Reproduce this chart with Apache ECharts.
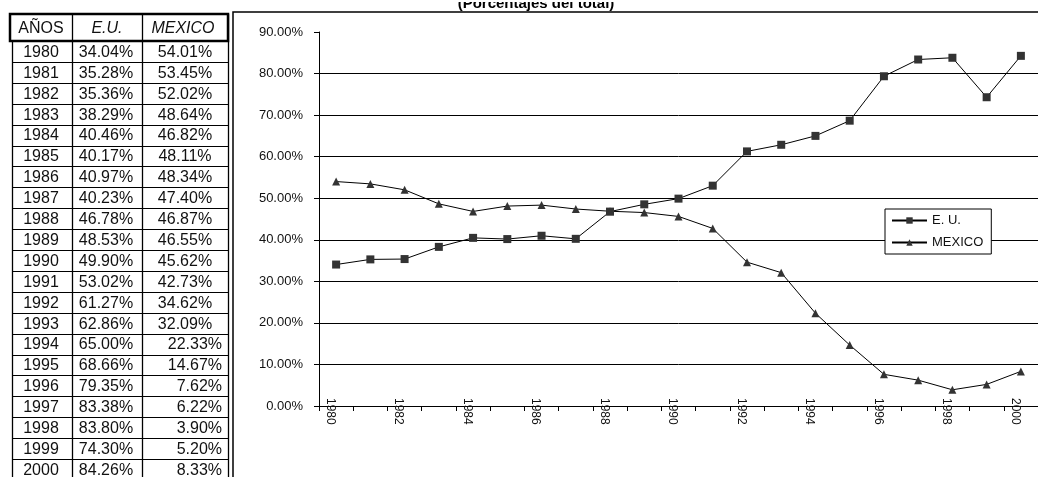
<!DOCTYPE html>
<html><head><meta charset="utf-8">
<script src="https://cdn.jsdelivr.net/npm/echarts@6/dist/echarts.min.js"></script>
<style>html,body{margin:0;padding:0;background:#fff;}#c{width:1038px;height:477px;}</style>
</head><body><div id="c"></div>
<script>
const years = ['1980','1981','1982','1983','1984','1985','1986','1987','1988','1989','1990','1991','1992','1993','1994','1995','1996','1997','1998','1999','2000'];
const euValues = [34.04,35.28,35.36,38.29,40.46,40.17,40.97,40.23,46.78,48.53,49.90,53.02,61.27,62.86,65.00,68.66,79.35,83.38,83.80,74.30,84.26];
const mexicoValues = [54.01,53.45,52.02,48.64,46.82,48.11,48.34,47.40,46.87,46.55,45.62,42.73,34.62,32.09,22.33,14.67,7.62,6.22,3.90,5.20,8.33];
const tableHeaders = ['AÑOS','E.U.','MEXICO'];
const seriesNames = ['E. U.','MEXICO'];
const titleText = '(Porcentajes del total)';
const yMin = 0, yMax = 90, yStep = 10;

const FONT = '"Liberation Sans", Arial, sans-serif';
const chart = echarts.init(document.getElementById('c'));

// table layout
const tLeft = 12, tRight = 228, colX = [12, 72, 142, 228];
const headTop = 14, headH = 27, rowH = 20.9;
const bodyTop = headTop + headH;
const g = [];
g.push({type:'rect', shape:{x:10, y:headTop, width:tRight-10, height:headH}, style:{fill:'#fff', stroke:'#000', lineWidth:2.5}, z:1});
for (let i = 0; i <= years.length; i++) {
  const y = Math.round(bodyTop + i*rowH) + 0.5;
  g.push({type:'line', shape:{x1:tLeft, y1:y, x2:tRight, y2:y}, style:{stroke:'#000', lineWidth:1}, z:1});
}
colX.forEach((x,k)=>{
  g.push({type:'line', shape:{x1:x+0.5, y1:(k===0?bodyTop:headTop), x2:x+0.5, y2:bodyTop + years.length*rowH}, style:{stroke:'#000', lineWidth:1.3}, z:2});
});
const headCx = [41, 107, 183];
tableHeaders.forEach((h,k)=>{
  g.push({type:'text', style:{text:h, x:headCx[k], y:headTop+headH/2+1, align:'center', verticalAlign:'middle',
    font:(k>0?'italic ':'')+'16px '+FONT, fill:'#111'}, z:3});
});
const fmt = v => v.toFixed(2) + '%';
years.forEach((yr,i)=>{
  const cy = bodyTop + i*rowH + rowH/2 + 1;
  g.push({type:'text', style:{text:yr, x:41, y:cy, align:'center', verticalAlign:'middle', font:'16px '+FONT, fill:'#111'}, z:3});
  g.push({type:'text', style:{text:fmt(euValues[i]), x:106, y:cy, align:'center', verticalAlign:'middle', font:'16px '+FONT, fill:'#111'}, z:3});
  const late = i >= 14;
  g.push({type:'text', style:{text:fmt(mexicoValues[i]), x: late ? 222 : 185, y:cy, align: late ? 'right' : 'center', verticalAlign:'middle', font:'16px '+FONT, fill:'#111'}, z:3});
});
g.push({type:'rect', shape:{x:233, y:12, width:900, height:600}, style:{fill:'none', stroke:'#000', lineWidth:1.5}, z:0});
g.push({type:'text', style:{text:titleText, x:536, y:11, align:'center', verticalAlign:'bottom', font:'bold 15px '+FONT, fill:'#000'}, z:3});
// white band hides the top of the title, as in the cut-off original
g.push({type:'rect', shape:{x:300, y:0, width:500, height:2}, style:{fill:'#fff'}, z:4});

chart.setOption({
  animation:false,
  backgroundColor:'#fff',
  textStyle:{fontFamily:FONT},
  graphic: g,
  grid:{left:319, top:32, right:-3, bottom:71},
  legend:{
    orient:'vertical', left:885, top:209, data:seriesNames,
    backgroundColor:'#fff', borderColor:'#000', borderWidth:1, padding:[5,8,5,6],
    itemWidth:35, itemHeight:8, itemGap:9,
    textStyle:{fontSize:13, color:'#111', fontFamily:FONT}
  },
  xAxis:{
    type:'category', data:years, boundaryGap:true,
    axisLine:{lineStyle:{color:'#000', width:1}},
    axisTick:{show:true, interval:0, length:5, lineStyle:{color:'#000'}},
    axisLabel:{interval:1, rotate:-90, margin:-8, fontSize:12, color:'#111', verticalAlign:'top', fontFamily:FONT},
    splitLine:{show:false}
  },
  yAxis:{
    type:'value', min:yMin, max:yMax, interval:yStep,
    axisLine:{show:true, lineStyle:{color:'#000', width:1}},
    axisTick:{show:true, length:5, lineStyle:{color:'#000'}},
    axisLabel:{formatter:v=>v.toFixed(2)+'%', fontSize:13, color:'#111', margin:16, fontFamily:FONT},
    splitLine:{show:true, showMaxLine:false, lineStyle:{color:'#000', width:1}}
  },
  series:[
    {name:seriesNames[0], type:'line', data:euValues, symbol:'rect', symbolSize:8,
     itemStyle:{color:'#333'}, lineStyle:{color:'#000', width:1}},
    {name:seriesNames[1], type:'line', data:mexicoValues, symbol:'triangle', symbolSize:8,
     itemStyle:{color:'#333'}, lineStyle:{color:'#000', width:1}}
  ]
});
</script></body></html>
